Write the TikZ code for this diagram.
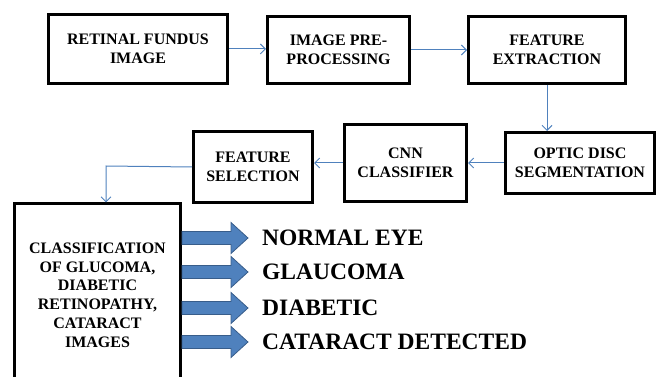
\documentclass[tikz,border=0pt]{standalone}
\usepackage{fontspec}
\setmainfont{Liberation Serif}[BoldFont={Liberation Serif Bold}]
\usepackage{tikz}
\usetikzlibrary{arrows.meta, arrows}
\usepackage{xcolor}

\definecolor{flowblue}{RGB}{79,129,189}
\definecolor{flowedge}{RGB}{56,93,138}

\begin{document}
\begin{tikzpicture}[x=1pt,y=-1pt,
        blockbox/.style={draw=black, line width=3pt, align=center, inner sep=0pt,
            font=\fontsize{16}{19}\selectfont\bfseries},
        flowline/.style={draw=flowblue, line width=1pt, -{Straight Barb[length=5pt,width=10pt]}},
        bigarrow/.style={fill=flowblue, draw=flowedge, line width=0.8pt},
        result/.style={anchor=west, inner sep=0pt, font=\fontsize{23.5}{26}\selectfont\bfseries}]
        % Page frame
        \useasboundingbox (0,0) rectangle (657,377);
        \clip (0,0) rectangle (657,377);

        % Top row
        \node[blockbox, minimum width=179pt, minimum height=69pt] (fundus) at (138,49) {RETINAL FUNDUS\\IMAGE};
        \node[blockbox, minimum width=142pt, minimum height=67pt] (preproc) at (338.5,50) {IMAGE PRE-\\PROCESSING};
        \node[blockbox, minimum width=157pt, minimum height=67pt] (extract) at (547,50) {FEATURE\\EXTRACTION};

        % Middle row
        \node[blockbox, minimum width=149pt, minimum height=61pt] (optic) at (580,163) {OPTIC DISC\\SEGMENTATION};
        \node[blockbox, minimum width=122pt, minimum height=77pt] (cnn) at (405.5,163) {CNN\\CLASSIFIER};
        \node[blockbox, minimum width=119pt, minimum height=71pt] (select) at (253,167) {FEATURE\\SELECTION};

        % Classification box (runs off the bottom)
        \node[blockbox, minimum width=166pt, minimum height=182pt,
              font=\fontsize{16}{18.8}\selectfont\bfseries] (class) at (97.5,295)
              {CLASSIFICATION\\OF GLUCOMA,\\DIABETIC\\RETINOPATHY,\\CATARACT\\IMAGES};

        % Results
        \node[result] (lnormal) at (262,238) {NORMAL EYE};
        \node[result] (lglaucoma) at (262,272) {GLAUCOMA};
        \node[result] (ldiabetic) at (262,308) {DIABETIC};
        \node[result] (lcataract) at (262,342) {CATARACT DETECTED};

        % Flow connectors
        \draw[flowline] (fundus.east) -- (fundus.east -| preproc.west);
        \draw[flowline] (preproc.east) -- (preproc.east -| extract.west);
        \draw[flowline] (extract.south) -- (extract.south |- optic.north);
        \draw[flowline] (optic.west) -- (optic.west -| cnn.east);
        \draw[flowline] (cnn.west) -- (cnn.west -| select.east);
        \coordinate (turn) at (106,166);
        \draw[flowline] (select.west) -- (turn) -- (turn |- class.north);

        % Block arrows to the results
        \foreach \lab in {lnormal,lglaucoma,ldiabetic,lcataract}{
            \coordinate (start) at (class.east |- \lab.west);
            \filldraw[bigarrow] (start) ++(0,-6.5) -- ++(49,0) -- ++(0,-9) -- ++(17,15.5)
                -- ++(-17,15.5) -- ++(0,-9) -- ++(-49,0) -- cycle;
        }
    \end{tikzpicture}
\end{document}
